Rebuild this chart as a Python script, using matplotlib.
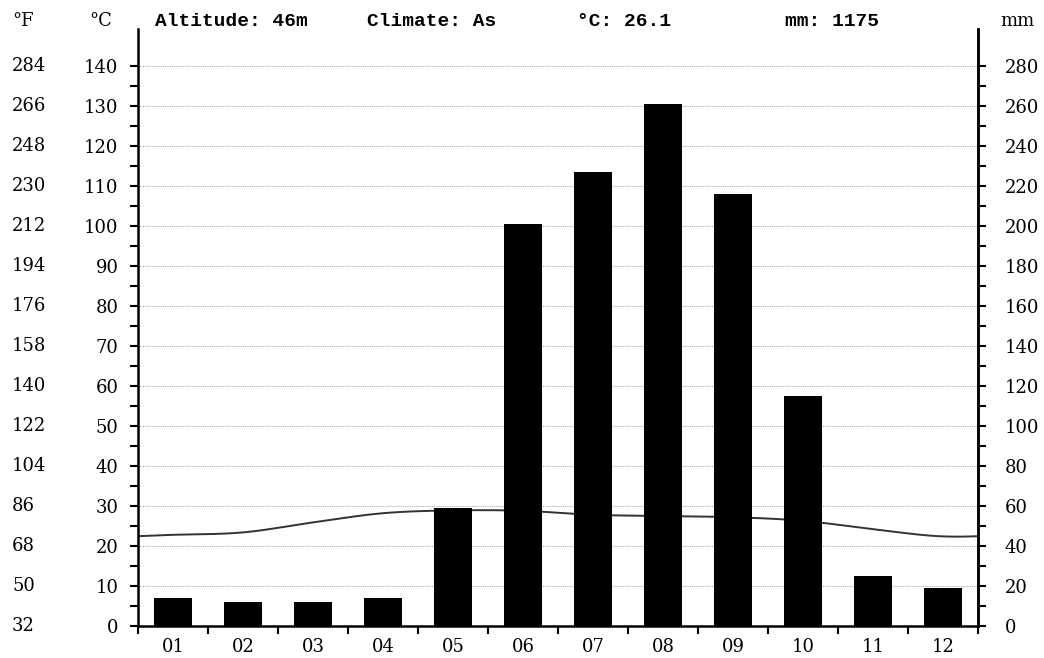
import matplotlib.pyplot as plt
from matplotlib.ticker import FixedLocator
from matplotlib.transforms import blended_transform_factory
import numpy as np

# climate data
months = ["01", "02", "03", "04", "05", "06", "07", "08", "09", "10", "11", "12"]
temp_c = [22.8, 23.4, 25.9, 28.2, 28.9, 28.8, 27.8, 27.5, 27.2, 26.3, 24.2, 22.4]
precip_mm = [14, 12, 12, 14, 59, 201, 227, 261, 216, 115, 25, 19]
header = ["Altitude: 46m", "Climate: As", "°C: 26.1", "mm: 1175"]
c_ticks = list(range(0, 150, 10))
f_labels = [str(int(c * 9 / 5 + 32)) for c in c_ticks]
mm_ticks = list(range(0, 300, 20))


def catmull_rom(xs, ys, n=30):
    # smooth curve through the points (wrapped around the year)
    xs = np.concatenate([[xs[-2] - 12, xs[-1] - 12], xs, [xs[0] + 12, xs[1] + 12]])
    ys = np.concatenate([[ys[-2], ys[-1]], ys, [ys[0], ys[1]]])
    ox, oy = [], []
    for i in range(1, len(xs) - 2):
        t = np.linspace(0, 1, n, endpoint=False)
        for arr, out in ((xs, ox), (ys, oy)):
            p0, p1, p2, p3 = arr[i - 1], arr[i], arr[i + 1], arr[i + 2]
            out.extend(0.5 * (2 * p1 + (-p0 + p2) * t
                              + (2 * p0 - 5 * p1 + 4 * p2 - p3) * t ** 2
                              + (-p0 + 3 * p1 - 3 * p2 + p3) * t ** 3))
    return np.array(ox), np.array(oy)


fig = plt.figure(figsize=(10.44, 6.58), dpi=100)
L, R, B, T = 138, 978, 626, 29
ax = fig.add_axes([L / 1044, (658 - B) / 658, (R - L) / 1044, (B - T) / 658])
ax2 = ax.twinx()

x = np.arange(12) + 0.5
sx, sy = catmull_rom(x, np.array(temp_c))
ax.plot(sx, sy, color="#333333", lw=1.4, zorder=2)
ax2.bar(x, precip_mm, width=0.54, color="black", zorder=3)

top_c = (B - T) / 4.0
ax.set_xlim(0, 12)
ax.set_ylim(0, top_c)
ax2.set_ylim(0, top_c * 2)

# grid
for c in c_ticks[1:]:
    ax.axhline(c, color="#aaaaaa", lw=0.8, ls=(0, (1, 1)), zorder=1)

serif = {"family": "DejaVu Serif", "size": 13}
ax.set_yticks(c_ticks)
ax.set_yticklabels([str(c) for c in c_ticks], fontdict=serif)
ax.yaxis.set_minor_locator(FixedLocator(list(range(5, 140, 10))))
ax.tick_params(axis="y", which="both", direction="out", length=6, width=1.5, pad=8)

ax.set_xticks(np.arange(13))
ax.set_xticklabels([])
ax.set_xticks(x, minor=True)
ax.set_xticklabels(months, minor=True, fontdict=serif)
ax.tick_params(axis="x", which="major", direction="out", length=6, width=1.5)
ax.tick_params(axis="x", which="minor", length=0, pad=9)

ax2.set_yticks(mm_ticks)
ax2.set_yticklabels([str(v) for v in mm_ticks], fontdict=serif)
ax2.yaxis.set_minor_locator(FixedLocator(list(range(10, 280, 20))))
ax2.tick_params(axis="y", which="both", direction="out", length=6, width=1.5, pad=13)

for a in (ax, ax2):
    a.spines["top"].set_visible(False)
    for s in ("left", "right", "bottom"):
        a.spines[s].set_linewidth(1.8)
ax2.spines["left"].set_visible(False)
ax2.spines["bottom"].set_visible(False)

# Fahrenheit column
ftrans = blended_transform_factory(fig.transFigure, ax.transData)
for c, f in zip(c_ticks, f_labels):
    ax.text(12 / 1044, c, f, transform=ftrans, ha="left", va="center", fontdict=serif)

# header
hy = 1 - 21 / 658
mono = {"family": "Liberation Mono", "size": 14, "weight": "bold"}
fig.text(12 / 1044, hy, "°F", ha="left", va="center", fontdict=serif)
fig.text(89 / 1044, hy, "°C", ha="left", va="center", fontdict=serif)
fig.text(1000 / 1044, hy, "mm", ha="left", va="center", fontdict=serif)
for xp, t in zip([155, 367, 577, 785], header):
    fig.text(xp / 1044, hy, t, ha="left", va="center", fontdict=mono)

fig.savefig("out.png", dpi=100)
